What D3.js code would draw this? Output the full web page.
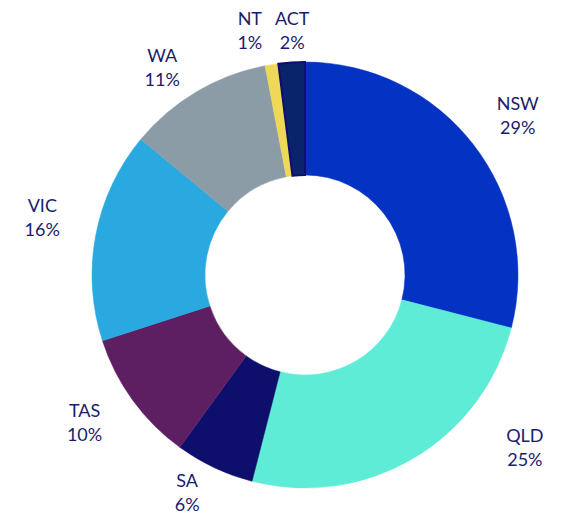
<!DOCTYPE html>
<html>
<head>
<meta charset="utf-8">
<script src="https://cdn.jsdelivr.net/npm/d3@7"></script>
<style>
  body { margin: 0; background: #fff; }
  svg { display: block; }
</style>
</head>
<body>
<svg class="canvas"></svg>
<script>
// states in clockwise order from 12 o'clock
var states = ["NSW", "QLD", "SA", "TAS", "VIC", "WA", "NT", "ACT"];
var shares = [29, 25, 6, 10, 16, 11, 1, 2];
var colours = ["#0433c3", "#5eecd6", "#0e0e6c", "#5d1f62", "#2aa8e0", "#8b9ca6", "#f0d857", "#0a246c"];

var width = 567;
var height = 514;
var cx = 305, cy = 275;
var outer = 213, inner = 100;

// labels sit a little off the slice mid angle (degrees) and at varying distance
var labelNudge = { NSW: 0.9, QLD: -21.4, SA: 3.3, TAS: 2.3, VIC: 1.6, WA: -3.9, NT: -3.7, ACT: 0.6 };
var labelRadius = { NSW: 266, QLD: 279, SA: 247, TAS: 265, VIC: 269, WA: 252, NT: 251, ACT: 245 };

var svg = d3.select(".canvas")
    .attr("width", width)
    .attr("height", height);

var data = states.map(function(s, i) {
    return { state: s, value: shares[i], colour: colours[i] };
});

var pie = d3.pie()
    .value(function(d) { return d.value; })
    .sort(null);

var arc = d3.arc()
    .innerRadius(inner)
    .outerRadius(outer);

var g = svg.append("g")
    .attr("transform", "translate(" + cx + "," + cy + ")");

var arcs = pie(data);

g.selectAll("path")
    .data(arcs)
    .enter()
    .append("path")
        .attr("d", arc)
        .style("fill", function(d) { return d.data.colour; })
        .style("stroke", function(d) { return d.data.state === "ACT" ? "#0e0e6c" : d.data.colour; })
        .attr("stroke-width", function(d) { return d.data.state === "ACT" ? 2 : 0.5; });

var labels = g.selectAll(".label")
    .data(arcs)
    .enter()
    .append("text")
        .attr("class", "label")
        .attr("text-anchor", "middle")
        .style("font-family", "Lato, 'Open Sans', sans-serif")
        .style("font-size", "18px")
        .style("fill", "#1a1d6b")
        .attr("transform", function(d) {
            var a = (d.startAngle + d.endAngle) / 2 + labelNudge[d.data.state] * Math.PI / 180;
            var r = labelRadius[d.data.state];
            return "translate(" + (r * Math.sin(a)) + "," + (-r * Math.cos(a)) + ")";
        });

labels.append("tspan")
    .attr("x", 0)
    .attr("y", -5)
    .text(function(d) { return d.data.state; });

labels.append("tspan")
    .attr("x", 0)
    .attr("y", 19)
    .text(function(d) { return d.data.value + "%"; });
</script>
</body>
</html>
